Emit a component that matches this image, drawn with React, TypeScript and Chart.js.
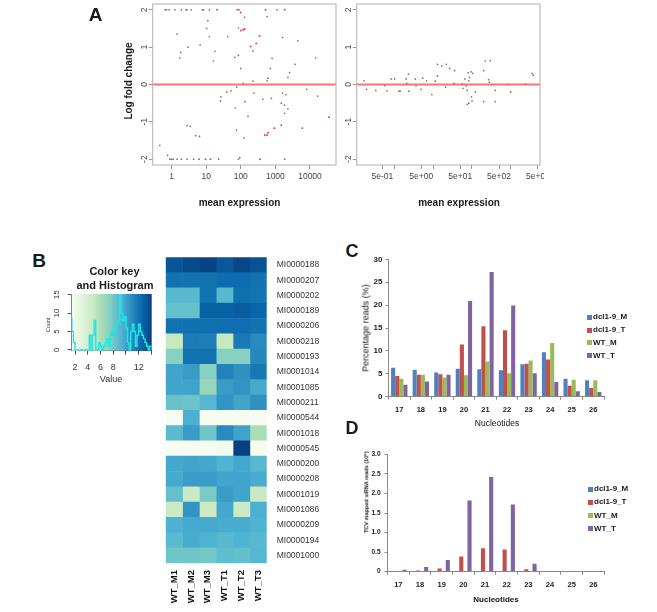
import React, { useEffect, useRef } from 'react';
import { Chart, registerables } from 'chart.js';

Chart.register(...registerables);

const FONT = '"Liberation Sans", Arial, Helvetica, sans-serif';
Chart.defaults.font.family = FONT;

// ---------------- Panel A data ----------------
const aLeftGray: [number, number][] = [
  [0.65, 2], [0.72, 2], [0.86, 2], [1.27, 2], [1.93, 2], [2.6, 2], [2.8, 2], [3.7, 2], [7.7, 2], [8.4, 2],
  [12.4, 2], [90, 2], [1117, 2], [130, 1.8], [11.2, 1.71], [578, 1.82], [1.45, 1.35], [10.4, 1.5], [12.4, 1.28],
  [86, 1.52], [42, 1.28], [1620, 1.26], [4440, 1.17], [6.7, 1.06], [3.0, 1.0], [1.85, 0.86], [1.73, 0.71],
  [18, 0.89], [225, 0.9], [16.2, 0.63], [86, 0.78], [67, 0.73], [803, 0.7], [14500, 0.71], [3730, 0.54],
  [100, 0.43], [720, 0.43], [2570, 0.32], [2300, 0.19], [604, 0.17], [578, 0.1], [225, 0.09], [117, 0.03],
  [77, -0.07], [8040, -0.13], [52, -0.17], [39, -0.2], [240, -0.23], [1620, -0.23], [2020, -0.27],
  [26.8, -0.33], [26, -0.44], [16600, -0.31], [133, -0.46], [435, -0.39], [769, -0.37], [1480, -0.5],
  [1850, -0.55], [2300, -0.65], [69, -0.63], [1850, -0.77], [162, -0.85], [1480, -1.09], [6040, -1.17],
  [2.8, -1.1], [3.5, -1.12], [75, -1.22], [5.0, -1.37], [6.45, -1.39], [125, -1.43], [0.46, -1.63],
  [0.77, -1.9], [94, -1.96], [0.9, -2], [1.0, -2], [1.12, -2], [1.45, -2], [1.93, -2], [2.8, -2],
  [4.35, -2], [23, -2], [86, -2], [1848, -2],
];
const aLeftRed: [number, number][] = [
  [20.6, 2], [80, 2], [518, 2], [1848, 2], [100, 1.93], [100, 1.45], [117, 1.47], [130, 1.49], [349, 1.3],
  [280, 1.1], [193, 1.02], [35600, -0.88], [936, -1.17], [617, -1.29], [578, -1.35], [495, -1.36],
  [6.2, -2], [9.6, -2], [13.3, -2], [357, -2],
];
const aRightGray: [number, number][] = [
  [0.167, 0.1], [0.196, -0.13], [0.338, -0.16], [0.573, -0.03], [0.657, -0.17], [0.847, 0.15], [1.03, 0.15],
  [1.33, -0.18], [1.43, -0.18], [2.04, 0.15], [2.12, 0.03], [2.34, 0.28], [2.39, -0.18], [3.52, 0.15],
  [3.66, -0.04], [4.91, -0.13], [5.42, 0.17], [6.85, 0.1], [9.36, -0.27], [11.4, 0.09], [13.0, 0.23],
  [13.0, 0.54], [16.8, 0.5], [22.1, 0.54], [26.9, 0.43], [21.2, -0.07], [36, 0.37], [34.6, 0.03],
  [56.5, 0.02], [58.7, -0.1], [66, 0.15], [71.3, -0.04], [75.7, -0.16], [80.2, 0.32], [83.4, 0.1],
  [86.7, 0.19], [95.7, 0.34], [105, 0.3], [83.4, -0.5], [75.7, -0.53], [97.5, -0.33], [101, -0.44],
  [123, -0.2], [201, 0.37], [221, 0.63], [297, 0.64], [269, 0.13], [280, 0.06], [327, 0.0], [398, -0.16],
  [398, -0.46], [201, -0.46], [836, 0.0], [996, -0.2], [2400, 0.02], [3550, 0.3], [3760, 0.25],
];
const lfcTicks = [-2, -1, 0, 1, 2];
const lfcTickLabels = ['-2', '-1', '0', '1', '2'];
const aLeftTicks = [1, 10, 100, 1000, 10000];
const aLeftTickLabels = ['1', '10', '100', '1000', '10000'];
const aRightTicks = [0.5, 1, 5, 10, 50, 100, 500, 1000, 5000];
const aRightTickLabels = ['5e-01', '', '5e+00', '', '5e+01', '', '5e+02', '', '5e+03'];
const A_LFC_MIN = -2.157;
const A_LFC_MAX = 2.157;
const A_L_MIN = 0.2864;
const A_L_MAX = 56360;
const A_R_MIN = 0.109;
const A_R_MAX = 5650;

// ---------------- Panel B data ----------------
const heatRows = [
  'MI0000188', 'MI0000207', 'MI0000202', 'MI0000189', 'MI0000206', 'MI0000218', 'MI0000193', 'MI0001014',
  'MI0001085', 'MI0000211', 'MI0000544', 'MI0001018', 'MI0000545', 'MI0000200', 'MI0000208', 'MI0001019',
  'MI0001086', 'MI0000209', 'MI0000194', 'MI0001000',
];
const heatSamples = ['WT_M1', 'WT_M2', 'WT_M3', 'WT_T1', 'WT_T2', 'WT_T3'];
const wtM1 = [13.2, 12.0, 9.0, 8.5, 12.0, 4.9, 7.3, 9.9, 9.9, 8.4, 1.5, 8.9, 1.5, 9.8, 9.7, 8.5, 4.7, 9.4, 8.9, 8.2];
const wtM2 = [13.6, 12.0, 9.0, 8.5, 12.1, 11.6, 12.0, 10.3, 10.0, 8.3, 9.45, 10.3, 1.5, 9.9, 10.3, 4.8, 10.6, 9.7, 9.6, 8.2];
const wtM3 = [13.9, 12.0, 12.0, 12.7, 12.1, 11.5, 12.0, 7.3, 6.8, 9.1, 1.5, 8.2, 1.5, 9.8, 10.3, 7.8, 4.6, 9.7, 9.3, 8.0];
const wtT1 = [13.1, 12.3, 9.0, 12.7, 12.2, 4.9, 7.3, 11.3, 10.3, 10.6, 1.5, 11.0, 1.8, 9.3, 9.9, 10.3, 9.8, 9.6, 9.0, 8.7];
const wtT2 = [13.8, 12.3, 12.1, 12.9, 12.2, 11.7, 7.3, 10.7, 10.6, 10.0, 1.5, 10.0, 14.2, 9.8, 9.9, 9.9, 4.6, 9.6, 9.3, 8.6];
const wtT3 = [13.3, 12.0, 11.9, 12.5, 12.0, 11.0, 11.1, 11.8, 9.7, 10.7, 1.5, 6.1, 1.5, 9.0, 9.6, 4.8, 9.45, 9.3, 9.0, 9.1];
const heatValues = [wtM1, wtM2, wtM3, wtT1, wtT2, wtT3];

const keyBinEdges = [
  1.5, 1.75, 2, 2.25, 2.5, 2.75, 3, 3.25, 3.5, 3.75, 4, 4.25, 4.5, 4.75, 5, 5.25, 5.5, 5.75, 6, 6.25, 6.5,
  6.75, 7, 7.25, 7.5, 7.75, 8, 8.25, 8.5, 8.75, 9, 9.25, 9.5, 9.75, 10, 10.25, 10.5, 10.75, 11, 11.25, 11.5,
  11.75, 12, 12.25, 12.5, 12.75, 13, 13.25, 13.5, 13.75, 14, 14.25,
];
const keyCounts = [
  9, 5, 2, 0, 0, 0, 0, 0, 0, 0, 0, 0, 4, 0, 4, 8, 0, 0, 2, 1, 0, 1, 2, 3, 1, 4, 5, 4, 6, 7, 8, 15, 10, 8, 9, 6,
  2, 0, 5, 7, 5, 1, 4, 7, 5, 4, 3, 2, 1, 0, 1,
];
const keyXTicks = [2, 4, 6, 8, 10, 12, 14];
const keyXTickLabels = ['2', '4', '6', '8', '', '12', ''];
const keyYTicks = [0, 5, 10, 15];
const keyYTickLabels = ['0', '5', '10', '15'];
const KEY_MIN = 1.48;
const KEY_MAX = 14.05;
const GNBU = ['#f7fcf0', '#e0f3db', '#ccebc5', '#a8ddb5', '#7bccc4', '#4eb3d3', '#2b8cbe', '#0868ac', '#084081'];

// ---------------- Panels C / D data ----------------
const nucLabels = ['17', '18', '19', '20', '21', '22', '23', '24', '25', '26'];
const seriesNames = ['dcl1-9_M', 'dcl1-9_T', 'WT_M', 'WT_T'];
const seriesColors = ['#4F81BD', '#C0504D', '#9BBB59', '#8064A2'];
const cDclM = [6.3, 5.9, 5.3, 6.1, 6.0, 5.8, 7.1, 9.7, 3.9, 3.6];
const cDclT = [4.5, 4.8, 4.9, 11.4, 15.4, 14.5, 7.2, 8.1, 2.4, 1.9];
const cWtM = [3.9, 4.8, 4.2, 4.7, 7.7, 5.1, 7.9, 11.7, 3.7, 3.6];
const cWtT = [2.6, 3.3, 4.8, 20.9, 27.2, 19.9, 5.1, 3.2, 1.2, 1.0];
const dDclM = [0.005, 0.005, 0.005, 0.005, 0.005, 0.005, 0.005, 0.008, 0.008, 0.006];
const dDclT = [0.01, 0.03, 0.08, 0.39, 0.6, 0.57, 0.06, 0.008, 0.006, 0.005];
const dWtM = [0.003, 0.003, 0.003, 0.003, 0.003, 0.003, 0.003, 0.006, 0.006, 0.005];
const dWtT = [0.05, 0.12, 0.3, 1.82, 2.42, 1.72, 0.2, 0.02, 0.01, 0.005];

// ---------------- helpers ----------------
function hexToRgb(h: string) {
  const n = parseInt(h.slice(1), 16);
  return [(n >> 16) & 255, (n >> 8) & 255, n & 255];
}
function heatColor(v: number) {
  let t = (v - KEY_MIN) / (KEY_MAX - KEY_MIN);
  t = Math.max(0, Math.min(1, t));
  const pos = t * (GNBU.length - 1);
  const i = Math.min(GNBU.length - 2, Math.floor(pos));
  const f = pos - i;
  const a = hexToRgb(GNBU[i]);
  const b = hexToRgb(GNBU[i + 1]);
  const c = a.map((x, k) => Math.round(x + (b[k] - x) * f));
  return `rgb(${c[0]},${c[1]},${c[2]})`;
}

const fit = (size: number) => (s: any) => {
  if (s.isHorizontal()) s.height = size;
  else s.width = size;
  s.paddingLeft = 0;
  s.paddingRight = 0;
  s.paddingTop = 0;
  s.paddingBottom = 0;
};

const setTicks = (vals: number[]) => (s: any) => {
  s.ticks = vals.map((v) => ({ value: v }));
};

function framePlugin(color: string) {
  return {
    id: 'frameBox',
    afterDraw(chart: any) {
      const { ctx, chartArea: ca } = chart;
      ctx.save();
      ctx.strokeStyle = color;
      ctx.lineWidth = 1;
      ctx.strokeRect(ca.left, ca.top, ca.right - ca.left, ca.bottom - ca.top);
      ctx.restore();
    },
  };
}

type RotItem = { axis: 'x' | 'y'; values: number[]; labels: string[]; offset: number; font: string; color: string };
function rotLabelPlugin(items: RotItem[]) {
  return {
    id: 'rotLabels',
    afterDraw(chart: any) {
      const { ctx, chartArea: ca } = chart;
      items.forEach((it) => {
        const scale = chart.scales[it.axis];
        ctx.save();
        ctx.font = it.font;
        ctx.fillStyle = it.color;
        ctx.textBaseline = 'middle';
        it.values.forEach((v, i) => {
          const p = scale.getPixelForValue(v);
          ctx.save();
          if (it.axis === 'y') {
            ctx.translate(ca.left - it.offset, p);
            ctx.textAlign = 'center';
          } else {
            ctx.translate(p, ca.bottom + it.offset);
            ctx.textAlign = 'right';
          }
          ctx.rotate(-Math.PI / 2);
          ctx.fillText(it.labels[i], 0, 0);
          ctx.restore();
        });
        ctx.restore();
      });
    },
  };
}

function gradientPlugin() {
  return {
    id: 'keyGradient',
    beforeDatasetsDraw(chart: any) {
      const { ctx, chartArea: ca } = chart;
      const sx = chart.scales.x;
      const g = ctx.createLinearGradient(sx.getPixelForValue(KEY_MIN), 0, sx.getPixelForValue(KEY_MAX), 0);
      GNBU.forEach((c, i) => g.addColorStop(i / (GNBU.length - 1), c));
      ctx.save();
      ctx.fillStyle = g;
      ctx.fillRect(ca.left, ca.top, ca.right - ca.left, ca.bottom - ca.top);
      ctx.restore();
    },
  };
}

function ChartCanvas({ x, y, w, h, make }: { x: number; y: number; w: number; h: number; make: () => any }) {
  const ref = useRef<HTMLCanvasElement | null>(null);
  useEffect(() => {
    if (!ref.current) return;
    const chart = new Chart(ref.current, make());
    return () => chart.destroy();
  }, []);
  return (
    <div style={{ position: 'absolute', left: x, top: y, width: w, height: h }}>
      <canvas ref={ref} width={w} height={h} style={{ width: w, height: h, display: 'block' }} />
    </div>
  );
}

function Txt({ x, y, size, bold, rot, color, children }: any) {
  return (
    <div
      style={{
        position: 'absolute',
        left: x,
        top: y,
        transform: `translate(-50%,-50%)${rot ? ' rotate(-90deg)' : ''}`,
        fontSize: size,
        fontWeight: bold ? 'bold' : 'normal',
        fontFamily: FONT,
        lineHeight: 1,
        whiteSpace: 'nowrap',
        color: color || '#1a1a1a',
      }}
    >
      {children}
    </div>
  );
}

function Legend({ x, y, step }: { x: number; y: number; step: number }) {
  return (
    <>
      {seriesNames.map((n, i) => (
        <div
          key={n}
          style={{
            position: 'absolute',
            left: x,
            top: y + i * step,
            transform: 'translateY(-50%)',
            display: 'flex',
            alignItems: 'center',
            fontFamily: FONT,
            fontSize: 8,
            fontWeight: 'bold',
            lineHeight: 1,
            color: '#1a1a1a',
            whiteSpace: 'nowrap',
          }}
        >
          <span style={{ display: 'inline-block', width: 5, height: 5, background: seriesColors[i], marginRight: 1.5 }} />
          {n}
        </div>
      ))}
    </>
  );
}

// ---------------- chart configs ----------------
const base = {
  animation: false,
  responsive: false,
  maintainAspectRatio: false,
  events: [] as string[],
};

function scatterConfig(
  gray: [number, number][],
  red: [number, number][],
  xmin: number,
  xmax: number,
  xticks: number[],
  xlabels: string[],
  yWidth: number,
) {
  return {
    type: 'scatter',
    data: {
      datasets: [
        {
          data: [
            { x: xmin, y: 0 },
            { x: xmax, y: 0 },
          ],
          showLine: true,
          borderColor: 'rgba(255,90,90,0.85)',
          borderWidth: 2,
          pointRadius: 0,
          order: 0,
        },
        {
          data: red.map(([x, y]) => ({ x, y })),
          backgroundColor: 'rgba(230,50,40,0.9)',
          borderWidth: 0,
          pointRadius: 1,
          order: 1,
        },
        {
          data: gray.map(([x, y]) => ({ x, y })),
          backgroundColor: 'rgba(70,70,70,0.75)',
          borderWidth: 0,
          pointRadius: 0.85,
          order: 2,
        },
      ],
    },
    options: {
      ...base,
      layout: { padding: { left: 0, right: 2, top: 0, bottom: 0 } },
      plugins: { legend: { display: false }, tooltip: { enabled: false } },
      scales: {
        x: {
          type: 'logarithmic',
          min: xmin,
          max: xmax,
          afterBuildTicks: setTicks(xticks),
          ticks: {
            autoSkip: false,
            maxRotation: 0,
            minRotation: 0,
            font: { size: 8.5 },
            color: '#444',
            padding: 3,
            callback: (_v: any, i: number) => xlabels[i],
          },
          grid: { drawOnChartArea: false, tickLength: 4, color: '#9a9a9a' },
          border: { display: false },
          afterFit: fit(50),
        },
        y: {
          type: 'linear',
          min: A_LFC_MIN,
          max: A_LFC_MAX,
          afterBuildTicks: setTicks(lfcTicks),
          ticks: { color: 'rgba(0,0,0,0)', font: { size: 8.5 } },
          grid: { drawOnChartArea: false, tickLength: 4, color: '#9a9a9a' },
          border: { display: false },
          afterFit: fit(yWidth),
        },
      },
    },
    plugins: [
      framePlugin('#b0b0b0'),
      rotLabelPlugin([
        { axis: 'y', values: lfcTicks, labels: lfcTickLabels, offset: 7.7, font: `8.5px ${FONT}`, color: '#444' },
      ]),
    ],
  };
}

function keyConfig() {
  return {
    type: 'line',
    data: {
      datasets: [
        {
          data: keyBinEdges.map((x, i) => ({ x, y: keyCounts[Math.min(i, keyCounts.length - 1)] })),
          stepped: 'after',
          borderColor: '#1fe6e6',
          borderWidth: 1.4,
          pointRadius: 0,
          fill: false,
        },
      ],
    },
    options: {
      ...base,
      layout: { padding: { left: 0, right: 8.3, top: 6, bottom: 0 } },
      plugins: { legend: { display: false }, tooltip: { enabled: false } },
      scales: {
        x: {
          type: 'linear',
          min: KEY_MIN,
          max: KEY_MAX,
          afterBuildTicks: setTicks(keyXTicks),
          ticks: {
            autoSkip: false,
            maxRotation: 0,
            font: { size: 9 },
            color: '#333',
            padding: 7,
            callback: (_v: any, i: number) => keyXTickLabels[i],
          },
          grid: { drawOnChartArea: false, tickLength: 4, color: '#555' },
          border: { display: true, color: '#555' },
          afterFit: fit(37.3),
        },
        y: {
          type: 'linear',
          min: -0.2,
          max: 15.2,
          afterBuildTicks: setTicks(keyYTicks),
          ticks: { color: 'rgba(0,0,0,0)', font: { size: 8 } },
          grid: { drawOnChartArea: false, tickLength: 4, color: '#555' },
          border: { display: true, color: '#555' },
          afterFit: fit(41.7),
        },
      },
    },
    plugins: [
      gradientPlugin(),
      rotLabelPlugin([
        { axis: 'y', values: keyYTicks, labels: keyYTickLabels, offset: 15, font: `8px ${FONT}`, color: '#333' },
      ]),
    ],
  };
}

function heatConfig() {
  return {
    type: 'bar',
    data: {
      labels: heatRows,
      datasets: heatValues.map((vals, i) => ({
        label: heatSamples[i],
        data: vals.map(() => 1),
        backgroundColor: vals.map(heatColor),
        borderWidth: 0,
        barPercentage: 1,
        categoryPercentage: 1,
      })),
    },
    options: {
      ...base,
      indexAxis: 'y',
      layout: { padding: { left: 5.7, right: 0, top: 7.3, bottom: 0 } },
      plugins: { legend: { display: false }, tooltip: { enabled: false } },
      scales: {
        x: {
          type: 'linear',
          stacked: true,
          min: 0,
          max: heatSamples.length,
          ticks: { display: false },
          grid: { display: false, drawTicks: false },
          border: { display: false },
          afterFit: fit(48.7),
        },
        y: {
          position: 'right',
          stacked: true,
          ticks: { font: { size: 8.5 }, color: '#333', padding: 10, autoSkip: false },
          grid: { display: false, drawTicks: false },
          border: { display: false },
          afterFit: fit(63.3),
        },
      },
    },
    plugins: [
      rotLabelPlugin([
        {
          axis: 'x',
          values: [0.5, 1.5, 2.5, 3.5, 4.5, 5.5],
          labels: heatSamples,
          offset: 6.7,
          font: `bold 9.5px ${FONT}`,
          color: '#111',
        },
      ]),
    ],
  };
}

function barConfig(
  series: number[][],
  ymax: number,
  step: number,
  yFmt: (v: number) => string,
  opts: { top: number; right: number; yWidth: number; xHeight: number; yFont: number; xPad: number; yPad: number },
) {
  return {
    type: 'bar',
    data: {
      labels: nucLabels,
      datasets: series.map((d, i) => ({
        label: seriesNames[i],
        data: d,
        backgroundColor: seriesColors[i],
        borderWidth: 0,
        categoryPercentage: 0.76,
        barPercentage: 1,
      })),
    },
    options: {
      ...base,
      layout: { padding: { left: 0, right: opts.right, top: opts.top, bottom: 0 } },
      plugins: { legend: { display: false }, tooltip: { enabled: false } },
      scales: {
        x: {
          grid: { offset: true, drawOnChartArea: false, tickLength: 3, color: '#8a8a8a' },
          border: { display: true, color: '#8a8a8a' },
          ticks: { font: { size: 7.5, weight: 'bold' }, color: '#222', padding: opts.xPad, maxRotation: 0, autoSkip: false },
          afterFit: fit(opts.xHeight),
        },
        y: {
          min: 0,
          max: ymax,
          ticks: {
            stepSize: step,
            font: { size: opts.yFont, weight: 'bold' },
            color: '#222',
            padding: opts.yPad,
            callback: (v: any) => yFmt(Number(v)),
          },
          grid: { drawOnChartArea: false, tickLength: 3, color: '#8a8a8a' },
          border: { display: true, color: '#8a8a8a' },
          afterFit: fit(opts.yWidth),
        },
      },
    },
  };
}

export default function App() {
  return (
    <div
      style={{
        position: 'absolute',
        left: 0,
        top: 0,
        width: 657,
        height: 612,
        overflow: 'hidden',
        background: '#fff',
        fontFamily: FONT,
      }}
    >
      {/* Panel A */}
      <ChartCanvas
        x={100}
        y={0}
        w={240}
        h={215}
        make={() => scatterConfig(aLeftGray, aLeftRed, A_L_MIN, A_L_MAX, aLeftTicks, aLeftTickLabels, 52.7)}
      />
      <ChartCanvas
        x={340}
        y={0}
        w={204}
        h={215}
        make={() => scatterConfig(aRightGray, [], A_R_MIN, A_R_MAX, aRightTicks, aRightTickLabels, 16.7)}
      />
      <Txt x={95.5} y={13.5} size={19} bold>A</Txt>
      <Txt x={129} y={81} size={10} bold rot>Log fold change</Txt>
      <Txt x={239.5} y={203} size={10} bold>mean expression</Txt>
      <Txt x={459} y={203} size={10} bold>mean expression</Txt>

      {/* Panel B */}
      <Txt x={39} y={260} size={19} bold>B</Txt>
      <Txt x={114.5} y={270.5} size={11} bold>Color key</Txt>
      <Txt x={115} y={284.5} size={11} bold>and Histogram</Txt>
      <ChartCanvas x={30} y={288} w={130} h={100} make={keyConfig} />
      <Txt x={49} y={325} size={5.5} rot color="#333">Count</Txt>
      <Txt x={111} y={379} size={9} color="#333">Value</Txt>
      <ChartCanvas x={160} y={250} w={170} h={362} make={heatConfig} />

      {/* Panel C */}
      <Txt x={352} y={251} size={18} bold>C</Txt>
      <ChartCanvas
        x={360}
        y={250}
        w={297}
        h={180}
        make={() =>
          barConfig([cDclM, cDclT, cWtM, cWtT], 30, 5, (v) => String(v), {
            top: 9.3,
            right: 53,
            yWidth: 28.5,
            xHeight: 33.3,
            yFont: 8,
            xPad: 5.5,
            yPad: 3,
          })
        }
      />
      <Txt x={366} y={328} size={9} rot color="#111">Percentage reads (%)</Txt>
      <Txt x={497} y={423.3} size={8.5} color="#111">Nucleotides</Txt>
      <Legend x={586.5} y={317.3} step={12.8} />

      {/* Panel D */}
      <Txt x={352} y={428} size={18} bold>D</Txt>
      <ChartCanvas
        x={360}
        y={445}
        w={297}
        h={167}
        make={() =>
          barConfig([dDclM, dDclT, dWtM, dWtT], 3, 0.5, (v) => (v === 0 ? '0' : v.toFixed(1)), {
            top: 9.3,
            right: 52.8,
            yWidth: 27.5,
            xHeight: 40.3,
            yFont: 6.5,
            xPad: 5.8,
            yPad: 4,
          })
        }
      />
      <Txt x={366.7} y={491.7} size={5.5} bold rot color="#111">TCV mapped siRNA reads (10⁵)</Txt>
      <Txt x={496} y={599.7} size={8} bold color="#111">Nucleotides</Txt>
      <Legend x={587.5} y={489} step={13.3} />
    </div>
  );
}
